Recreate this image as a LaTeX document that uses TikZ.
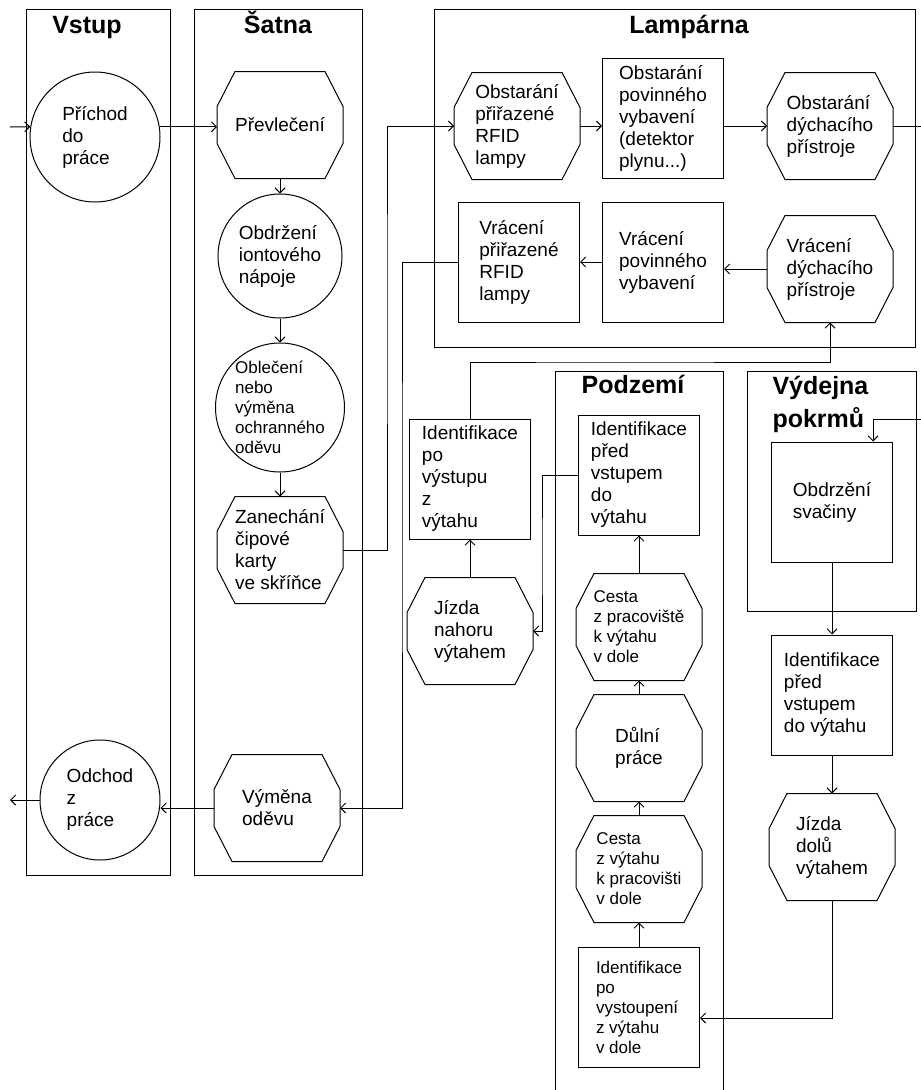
\documentclass[tikz,border=0pt]{standalone}
\usepackage{fontspec}
\setmainfont{Liberation Sans}
\usetikzlibrary{arrows.meta,positioning}

\tikzset{
  lanetitle/.style={font=\bfseries\fontsize{25}{33}\selectfont,inner sep=0pt},
  txt/.style={font=\fontsize{19}{22}\selectfont,align=left,inner sep=0pt},
  txtsmall/.style={font=\fontsize{17}{20}\selectfont,align=left,inner sep=0pt},
  circ/.style={circle,draw},
  box/.style={rectangle,draw,minimum width=121pt,minimum height=120pt},
  oct/.style={minimum width=125pt,minimum height=106pt}
}

\begin{document}
\begin{tikzpicture}[x=1pt,y=-1pt,>={Straight Barb[length=5pt,width=10pt]},line width=1pt]
\useasboundingbox (0,0) rectangle (921,1090);

% lanes
\draw (26,9) rectangle (170,875);
\draw (194,9) rectangle (362,875);
\draw (434,9) rectangle (915,347);
\draw (555,1090) |- (723,371) -- (723,1090);
\draw (747,371) rectangle (916,611);
\node[lanetitle,anchor=base] (tVstup) at (87,33) {Vstup};
\node[lanetitle,anchor=base] (tSatna) at (278,33) {Šatna};
\node[lanetitle,anchor=base] (tLamp) at (689,33) {Lampárna};
\node[lanetitle,anchor=base] (tPodz) at (633,393) {Podzemí};
\node[lanetitle,anchor=base west,align=left] (tVydej) at (772,427) {Výdejna\\pokrmů};

% Vstup
\node[circ,txt,minimum size=130pt] (prichod) at (95,137) {Příchod\\do\\práce};
\node[circ,txt,minimum size=120pt] (odchod) at (100,800) {Odchod\\z\\práce};

% Satna
\node[oct,txt] (prevlek) at (280,125) {Převlečení};
\node[circ,txt,minimum size=124pt,below=15pt of prevlek] (obdrz) {Obdržení\\iontového\\nápoje};
\node[circ,txtsmall,minimum size=129pt,inner sep=-6pt,below=24pt of obdrz] (obleceni) {Oblečení\\nebo\\výměna\\ochranného\\oděvu};
\node[oct,txt,below=24pt of obleceni] (zanech) {Zanechání\\čipové\\karty\\ve skříňce};
\node[oct,txt] (vymena) at (277,808) {Výměna\\oděvu};

% Lamparna
\node[oct,txt] (obstRFID) at (517,126) {Obstarání\\přiřazené\\RFID\\lampy};
\node[box,txt] (obstVyb) at (663,118) {Obstarání\\povinného\\vybavení\\(detektor\\plynu...)};
\node[oct,txt] (obstDych) at (830,126) {Obstarání\\dýchacího\\přístroje};
\node[box,txt] (vracRFID) at (519,262) {Vrácení\\přiřazené\\RFID\\lampy};
\node[box,txt] (vracVyb) at (663,262) {Vrácení\\povinného\\vybavení};
\node[oct,txt] (vracDych) at (830,269) {Vrácení\\dýchacího\\přístroje};

% vytah nahoru
\node[box,txt] (identPo) at (470,479) {Identifikace\\po\\výstupu\\z\\výtahu};
\node[oct,txt,below=38pt of identPo] (jizdaNah) {Jízda\\nahoru\\výtahem};

% Podzemi
\node[box,txtsmall] (identVyst) at (639,1007) {Identifikace\\po\\vystoupení\\z výtahu\\v dole};
\node[oct,txtsmall,above=24pt of identVyst] (cestaVyt) {Cesta\\z výtahu\\k pracovišti\\v dole};
\node[oct,txt,above=14pt of cestaVyt] (dulni) {Důlní\\práce};
\node[oct,txtsmall,above=14pt of dulni] (cestaPrac) {Cesta\\z pracoviště\\k výtahu\\v dole};
\node[box,txt,above=38pt of cestaPrac] (identPred) {Identifikace\\před\\vstupem\\do\\výtahu};

% Vydejna pokrmu
\node[box,txt] (svacina) at (832,502) {Obdrzění\\svačiny};
\node[box,txt,below=72pt of svacina] (identPred2) {Identifikace\\před\\vstupem\\do výtahu};
\node[oct,txt,below=38pt of identPred2] (jizdaDol) {Jízda\\dolů\\výtahem};

% octagon outlines
\foreach \n in {prevlek,zanech,vymena,obstRFID,obstDych,vracDych,jizdaNah,cestaVyt,dulni,cestaPrac,jizdaDol}
  \draw ([xshift=18pt]\n.north west) -- ([xshift=-18pt]\n.north east)
    -- ([yshift=-35pt]\n.north east) -- ([yshift=35pt]\n.south east)
    -- ([xshift=-18pt]\n.south east) -- ([xshift=18pt]\n.south west)
    -- ([yshift=35pt]\n.south west) -- ([yshift=-35pt]\n.north west) -- cycle;

\coordinate (start) at (10,127);
\coordinate (exitL) at (10,800);
\coordinate (exitR) at (921,126);
\coordinate (enterR) at (921,419);
\coordinate (bendA) at (387,300);
\coordinate (bendB) at (542,560);
\coordinate (bendC) at (600,362);
\coordinate (bendD) at (402,500);

% connectors
\draw[->] (start) -- (prichod.171);
\draw[->] (prichod.9) -- (prichod.9 -| prevlek.west);
\draw[->] (prevlek.south) -- (obdrz.north);
\draw[->] (obdrz.south) -- (obleceni.north);
\draw[->] (obleceni.south) -- (zanech.north);
\draw[->] (zanech.east) -| (bendA) |- (obstRFID.west);
\draw[->] (obstRFID.east) -- (obstRFID.east -| obstVyb.west);
\draw[->] (obstVyb.east |- obstDych.west) -- (obstDych.west);
\draw (obstDych.east) -- (exitR);
\draw[->] (vracDych.west) -- (vracDych.west -| vracVyb.east);
\draw[->] (vracVyb.west) -- (vracRFID.east);
\draw[->] (vracRFID.west) -| (bendD) |- (vymena.east);
\draw[->] (vymena.west) -- (vymena.west -| odchod.east);
\draw[->] (odchod.west) -- (exitL);
\draw[->] (enterR) -| ([xshift=41pt]svacina.north);
\draw[->] (svacina.south) -- (identPred2.north);
\draw[->] (identPred2.south) -- (jizdaDol.north);
\draw[->] (jizdaDol.south) |- ([yshift=-11pt]identVyst.east);
\draw[->] (identVyst.north) -- (cestaVyt.south);
\draw[->] (cestaVyt.north) -- (dulni.south);
\draw[->] (dulni.north) -- (cestaPrac.south);
\draw[->] (cestaPrac.north) -- (identPred.south);
\draw[->] (identPred.west) -| (bendB) |- (jizdaNah.east);
\draw[->] (jizdaNah.north) -- (identPo.south);
\draw[->] (identPo.north) |- (bendC) -| (vracDych.south);
\end{tikzpicture}
\end{document}
